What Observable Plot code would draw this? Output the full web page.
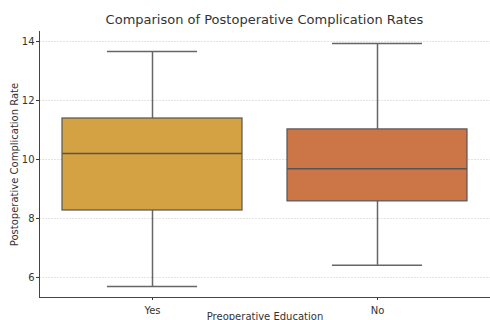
<!DOCTYPE html>
<html><head><meta charset="utf-8">
<script src="https://cdn.jsdelivr.net/npm/d3@7"></script>
<script src="https://cdn.jsdelivr.net/npm/@observablehq/plot@0.6"></script>
<style>
body{margin:0;background:#fff;font-family:"DejaVu Sans",sans-serif;}
#title{height:28px;line-height:40px;text-align:center;font-size:13px;color:#333;padding-left:39px;box-sizing:border-box;width:490px;}
</style></head>
<body>
<div id="title">Comparison of Postoperative Complication Rates</div>
<div id="chart"></div>
<script>
const groups = ["Yes", "No"];
const mins = [5.69, 6.41];
const q1s = [8.27, 8.58];
const medians = [10.2, 9.69];
const q3s = [11.39, 11.02];
const maxs = [13.66, 13.93];
const colors = ["#d4a243", "#cc7547"];
const yTicks = [6, 8, 10, 12, 14];

const data = groups.map((g, i) => ({g, min: mins[i], q1: q1s[i], med: medians[i], q3: q3s[i], max: maxs[i], c: colors[i]}));
const yDomain = [5.32, 14.34];

const chart = Plot.plot({
  width: 490, height: 300,
  marginLeft: 39, marginRight: 0, marginTop: 3, marginBottom: 31,
  style: {fontFamily: "DejaVu Sans, sans-serif", fontSize: "10px", color: "#333", background: "#fff"},
  x: {domain: groups, paddingInner: 0.2, paddingOuter: 0.1, label: "Preoperative Education", labelAnchor: "center", labelOffset: 22, tickSize: 3},
  y: {domain: yDomain, ticks: yTicks, label: "Postoperative Complication Rate", labelAnchor: "center", labelArrow: "none", labelOffset: 29, tickSize: 3, tickPadding: 2, grid: false},
  marks: [
    Plot.gridY(yTicks, {stroke: "#e3e3e3", strokeOpacity: 1, strokeDasharray: "2,1"}),
    Plot.ruleX(data, {x: "g", y1: "min", y2: "q1", stroke: "#666", strokeWidth: 1.5}),
    Plot.ruleX(data, {x: "g", y1: "q3", y2: "max", stroke: "#666", strokeWidth: 1.5}),
    Plot.tickY(data, {x: "g", y: "min", stroke: "#666", strokeWidth: 1.5, insetLeft: 45, insetRight: 45}),
    Plot.tickY(data, {x: "g", y: "max", stroke: "#666", strokeWidth: 1.5, insetLeft: 45, insetRight: 45}),
    Plot.barY(data, {x: "g", y1: "q1", y2: "q3", fill: "c", stroke: "#555", strokeWidth: 1.2}),
    Plot.tickY(data, {x: "g", y: "med", stroke: "#555", strokeWidth: 1.5}),
    Plot.frame({anchor: "left", stroke: "#444"}),
    Plot.frame({anchor: "bottom", stroke: "#444"})
  ]
});
document.getElementById("chart").appendChild(chart);
</script>
</body></html>
